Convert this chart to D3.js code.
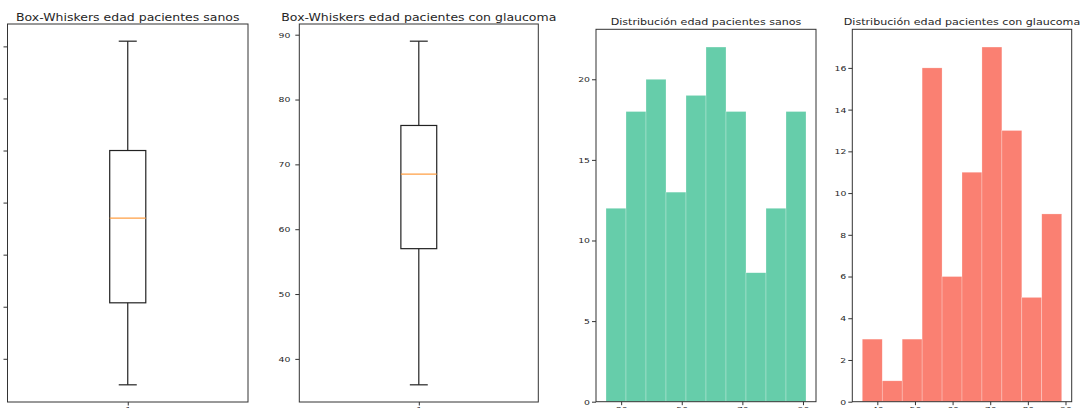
<!DOCTYPE html>
<html>
<head>
<meta charset="utf-8">
<script src="https://cdn.jsdelivr.net/npm/d3@7"></script>
<style>
body { margin: 0; background: #fff; }
svg { display: block; }
text { font-family: "DejaVu Sans", sans-serif; fill: #262626; }
</style>
</head>
<body>
<div id="chart"></div>
<script>
// box stats: min, q1, median, q3, max
var sanosBox = [25, 40.75, 57, 70, 91];
var glaucomaBox = [36, 57, 68.5, 76, 89];

// histogram ranges and counts (10 bins)
var sanosRange = [25, 91];
var sanosCounts = [12, 18, 20, 13, 19, 22, 18, 8, 12, 18];
var glaucomaRange = [36, 89];
var glaucomaCounts = [3, 1, 3, 16, 6, 11, 17, 13, 5, 9];

var boxTicksSanos = [30, 40, 50, 60, 70, 80, 90];
var boxTicksGlaucoma = [40, 50, 60, 70, 80, 90];
var histXTicksSanos = [30, 50, 70, 90];
var histXTicksGlaucoma = [40, 50, 60, 70, 80, 90];
var histYTicksSanos = [0, 5, 10, 15, 20];
var histYTicksGlaucoma = [0, 2, 4, 6, 8, 10, 12, 14, 16];

var titles = [
  "Box-Whiskers edad pacientes sanos",
  "Box-Whiskers edad pacientes con glaucoma",
  "Distribución edad pacientes sanos",
  "Distribución edad pacientes con glaucoma"
];

var svg = d3.select("#chart").append("svg")
  .attr("width", 1082)
  .attr("height", 408);

var sy = 0.82; // picture is squashed a bit vertically

function frame(p) {
  svg.append("rect")
    .attr("x", p.left).attr("y", p.top)
    .attr("width", p.right - p.left).attr("height", p.bottom - p.top)
    .attr("fill", "none").attr("stroke", "#333").attr("stroke-width", 1);
}

function title(p, txt, size, ty) {
  svg.append("g")
    .attr("transform", "translate(" + (p.left + p.right) / 2 + "," + ty + ") scale(1," + sy + ")")
    .append("text")
    .attr("text-anchor", "middle")
    .style("font-size", size + "px")
    .text(txt);
}

function styleAxis(g) {
  g.select(".domain").remove();
  g.selectAll(".tick line").attr("stroke", "#333");
  g.selectAll(".tick text")
    .attr("fill", "#262626")
    .style("font-family", "DejaVu Sans")
    .style("font-size", "9.3px")
    .attr("transform", "scale(1," + sy + ")");
}

function boxPanel(p, stats, ticks, txt) {
  var pad = (stats[4] - stats[0]) * 0.05;
  var y = d3.scaleLinear().domain([stats[0] - pad, stats[4] + pad]).range([p.bottom, p.top]);
  var x = d3.scaleLinear().domain([0.5, 1.5]).range([p.left, p.right]);
  var g = svg.append("g");
  var bw = 0.15;

  // whiskers
  g.append("line").attr("x1", x(1)).attr("x2", x(1)).attr("y1", y(stats[0])).attr("y2", y(stats[1]));
  g.append("line").attr("x1", x(1)).attr("x2", x(1)).attr("y1", y(stats[3])).attr("y2", y(stats[4]));
  // caps
  g.append("line").attr("x1", x(1 - bw / 4)).attr("x2", x(1 + bw / 4)).attr("y1", y(stats[0])).attr("y2", y(stats[0]));
  g.append("line").attr("x1", x(1 - bw / 4)).attr("x2", x(1 + bw / 4)).attr("y1", y(stats[4])).attr("y2", y(stats[4]));
  // box
  g.append("rect")
    .attr("x", x(1 - bw / 2)).attr("width", x(1 + bw / 2) - x(1 - bw / 2))
    .attr("y", y(stats[3])).attr("height", y(stats[1]) - y(stats[3]))
    .attr("fill", "none");
  g.selectAll("line, rect").attr("stroke", "#222").attr("stroke-width", 1.2);
  // median
  g.append("line").attr("x1", x(1 - bw / 2)).attr("x2", x(1 + bw / 2))
    .attr("y1", y(stats[2])).attr("y2", y(stats[2]))
    .attr("stroke", "#ff9f45").attr("stroke-width", 1.3);

  svg.append("g").attr("transform", "translate(" + p.left + ",0)")
    .call(d3.axisLeft(y).tickValues(ticks).tickSize(4).tickPadding(5))
    .call(styleAxis);
  svg.append("g").attr("transform", "translate(0," + p.bottom + ")")
    .call(d3.axisBottom(x).tickValues([1]).tickFormat(d3.format("d")).tickSize(3.5).tickPadding(2.5))
    .call(styleAxis);

  frame(p);
  title(p, txt, 12.5, 20.5);
}

function histPanel(p, range, counts, xticks, yticks, color, txt) {
  var pad = (range[1] - range[0]) * 0.05;
  var x = d3.scaleLinear().domain([range[0] - pad, range[1] + pad]).range([p.left, p.right]);
  var y = d3.scaleLinear().domain([0, d3.max(counts) * 1.05]).range([p.bottom, p.top]);
  var w = (range[1] - range[0]) / counts.length;

  svg.append("g").selectAll("rect").data(counts)
    .enter().append("rect")
    .attr("x", function(d, i) { return x(range[0] + i * w); })
    .attr("width", function(d, i) { return x(range[0] + (i + 1) * w) - x(range[0] + i * w); })
    .attr("y", function(d) { return y(d); })
    .attr("height", function(d) { return y(0) - y(d); })
    .attr("fill", color)
    .attr("stroke", "#fff")
    .attr("stroke-opacity", 0.5)
    .attr("stroke-width", 0.5);

  svg.append("g").attr("transform", "translate(" + p.left + ",0)")
    .call(d3.axisLeft(y).tickValues(yticks).tickSize(4).tickPadding(2))
    .call(styleAxis);
  svg.append("g").attr("transform", "translate(0," + p.bottom + ")")
    .call(d3.axisBottom(x).tickValues(xticks).tickSize(3.5).tickPadding(2.5))
    .call(styleAxis);

  frame(p);
  title(p, txt, 11.1, 25);
}

boxPanel({left: 7.5, right: 248, top: 24, bottom: 402}, sanosBox, boxTicksSanos, titles[0]);
boxPanel({left: 299.3, right: 538.3, top: 24, bottom: 402}, glaucomaBox, boxTicksGlaucoma, titles[1]);
histPanel({left: 596, right: 816, top: 29.3, bottom: 401.7}, sanosRange, sanosCounts,
  histXTicksSanos, histYTicksSanos, "#66cdaa", titles[2]);
histPanel({left: 852.3, right: 1071.7, top: 29.3, bottom: 401.7}, glaucomaRange, glaucomaCounts,
  histXTicksGlaucoma, histYTicksGlaucoma, "#fa8072", titles[3]);
</script>
</body>
</html>
